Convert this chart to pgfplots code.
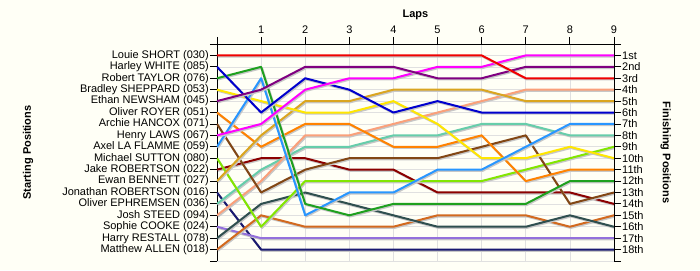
\documentclass[border=0pt]{standalone}
\usepackage{fontspec}
\setmainfont{Liberation Sans}
\usepackage{pgfplots}
\usepackage{pgfplotstable}
\pgfplotsset{compat=1.18}
\definecolor{bg}{RGB}{255,255,246}
\definecolor{c1}{RGB}{240,0,0}
\definecolor{c2}{RGB}{0,0,205}
\definecolor{c3}{RGB}{30,160,30}
\definecolor{c4}{RGB}{255,230,0}
\definecolor{c5}{RGB}{128,0,128}
\definecolor{c6}{RGB}{255,130,0}
\definecolor{c7}{RGB}{130,70,20}
\definecolor{c8}{RGB}{255,0,255}
\definecolor{c9}{RGB}{40,150,255}
\definecolor{c10}{RGB}{130,230,0}
\definecolor{c11}{RGB}{139,0,0}
\definecolor{c12}{RGB}{218,165,32}
\definecolor{c13}{RGB}{25,25,112}
\definecolor{c14}{RGB}{102,205,170}
\definecolor{c15}{RGB}{250,160,122}
\definecolor{c16}{RGB}{147,112,219}
\definecolor{c17}{RGB}{47,79,79}
\definecolor{c18}{RGB}{210,105,30}
\pgfplotstableread{
lap d1 d2 d3 d4 d5 d6 d7 d8 d9 d10 d11 d12 d13 d14 d15 d16 d17 d18
0 1 2 3 4 5 6 7 8 9 10 11 12 13 14 15 16 17 18
1 1 6 2 5 4 9 13 7 3 16 10 8 18 11 12 17 14 15
2 1 3 14 6 2 7 11 4 15 12 10 5 18 9 8 17 13 16
3 1 4 15 6 2 7 10 3 13 12 11 5 18 9 8 17 14 16
4 1 6 14 5 2 9 10 3 13 12 11 4 18 8 7 17 15 16
5 1 5 14 7 3 9 10 2 11 12 13 4 18 8 6 17 16 15
6 1 6 14 10 3 8 9 2 11 12 13 4 18 7 5 17 16 15
7 3 6 14 10 2 12 8 1 9 11 13 5 18 7 4 17 16 15
8 3 6 12 9 2 11 14 1 7 10 13 5 18 8 4 17 15 16
9 3 6 12 10 2 11 13 1 7 9 14 5 18 8 4 17 16 15
}\data
\begin{document}
\begin{tikzpicture}
\fill[bg] (-217pt,-9pt) rectangle (483pt,261pt);
\begin{axis}[
  at={(0,0)}, anchor=south west,
  width=397pt, height=217pt, scale only axis,
  xmin=0, xmax=9, ymin=0, ymax=19, y dir=reverse,
  axis x line*=top, axis y line*=left,
  xtick={0,...,9}, xticklabels={{},1,2,3,4,5,6,7,8,9},
  ytick={0,...,19},
  yticklabels={{},Louie SHORT (030),Harley WHITE (085),Robert TAYLOR (076),Bradley SHEPPARD (053),Ethan NEWSHAM (045),Oliver ROYER (051),Archie HANCOX (071),Henry LAWS (067),Axel LA FLAMME (059),Michael SUTTON (080),Jake ROBERTSON (022),Ewan BENNETT (027),Jonathan ROBERTSON (016),Oliver EPHREMSEN (036),Josh STEED (094),Sophie COOKE (024),Harry RESTALL (078),Matthew ALLEN (018),{}},
  tick align=outside, major tick length=7pt,
  tick style={black, line width=0.8pt},
  axis line style={black, line width=0.8pt},
  grid=major, major grid style={black!12, line width=0.6pt},
  every tick label/.append style={font=\fontsize{11}{13}\selectfont},
  yticklabel style={inner sep=1pt},
  /pgf/number format/assume math mode=true,
  xlabel={\bfseries Laps},
  xlabel style={at={(axis description cs:0.5,1.134)}, anchor=center, font=\fontsize{11}{13}\selectfont},
  ylabel={\bfseries Starting Positions},
  ylabel style={at={(axis description cs:-0.476,0.5)}, anchor=center, font=\fontsize{11}{13}\selectfont},
  every axis plot/.append style={no markers, line width=2pt, line join=round,
     preaction={draw=black!22, transform canvas={xshift=1pt, yshift=-1.2pt}}},
]
\addplot[c13] table[x=lap,y=d13] {\data};
\addplot[c16] table[x=lap,y=d16] {\data};
\addplot[c18] table[x=lap,y=d18] {\data};
\addplot[c17] table[x=lap,y=d17] {\data};
\addplot[c11] table[x=lap,y=d11] {\data};
\addplot[c14] table[x=lap,y=d14] {\data};
\addplot[c15] table[x=lap,y=d15] {\data};
\addplot[c10] table[x=lap,y=d10] {\data};
\addplot[c7] table[x=lap,y=d7] {\data};
\addplot[c6] table[x=lap,y=d6] {\data};
\addplot[c12] table[x=lap,y=d12] {\data};
\addplot[c4] table[x=lap,y=d4] {\data};
\addplot[c9] table[x=lap,y=d9] {\data};
\addplot[c3] table[x=lap,y=d3] {\data};
\addplot[c2] table[x=lap,y=d2] {\data};
\addplot[c8] table[x=lap,y=d8] {\data};
\addplot[c5] table[x=lap,y=d5] {\data};
\addplot[c1] table[x=lap,y=d1] {\data};
\end{axis}
\begin{axis}[
  at={(0,0)}, anchor=south west,
  width=397pt, height=217pt, scale only axis,
  xmin=0, xmax=9, ymin=0, ymax=19, y dir=reverse,
  axis x line=none, axis y line*=right,
  ytick={0,...,19},
  yticklabels={{},1st,2nd,3rd,4th,5th,6th,7th,8th,9th,10th,11th,12th,13th,14th,15th,16th,17th,18th,{}},
  tick align=outside, major tick length=7pt,
  tick style={black, line width=0.8pt},
  axis line style={black, line width=0.8pt},
  every tick label/.append style={font=\fontsize{11}{13}\selectfont},
  yticklabel style={inner sep=1pt},
  ylabel={\bfseries Finishing Positions},
  ylabel style={at={(axis description cs:1.130,0.5)}, anchor=center, rotate=180, font=\fontsize{11}{13}\selectfont},
]
\end{axis}
\end{tikzpicture}
\end{document}
